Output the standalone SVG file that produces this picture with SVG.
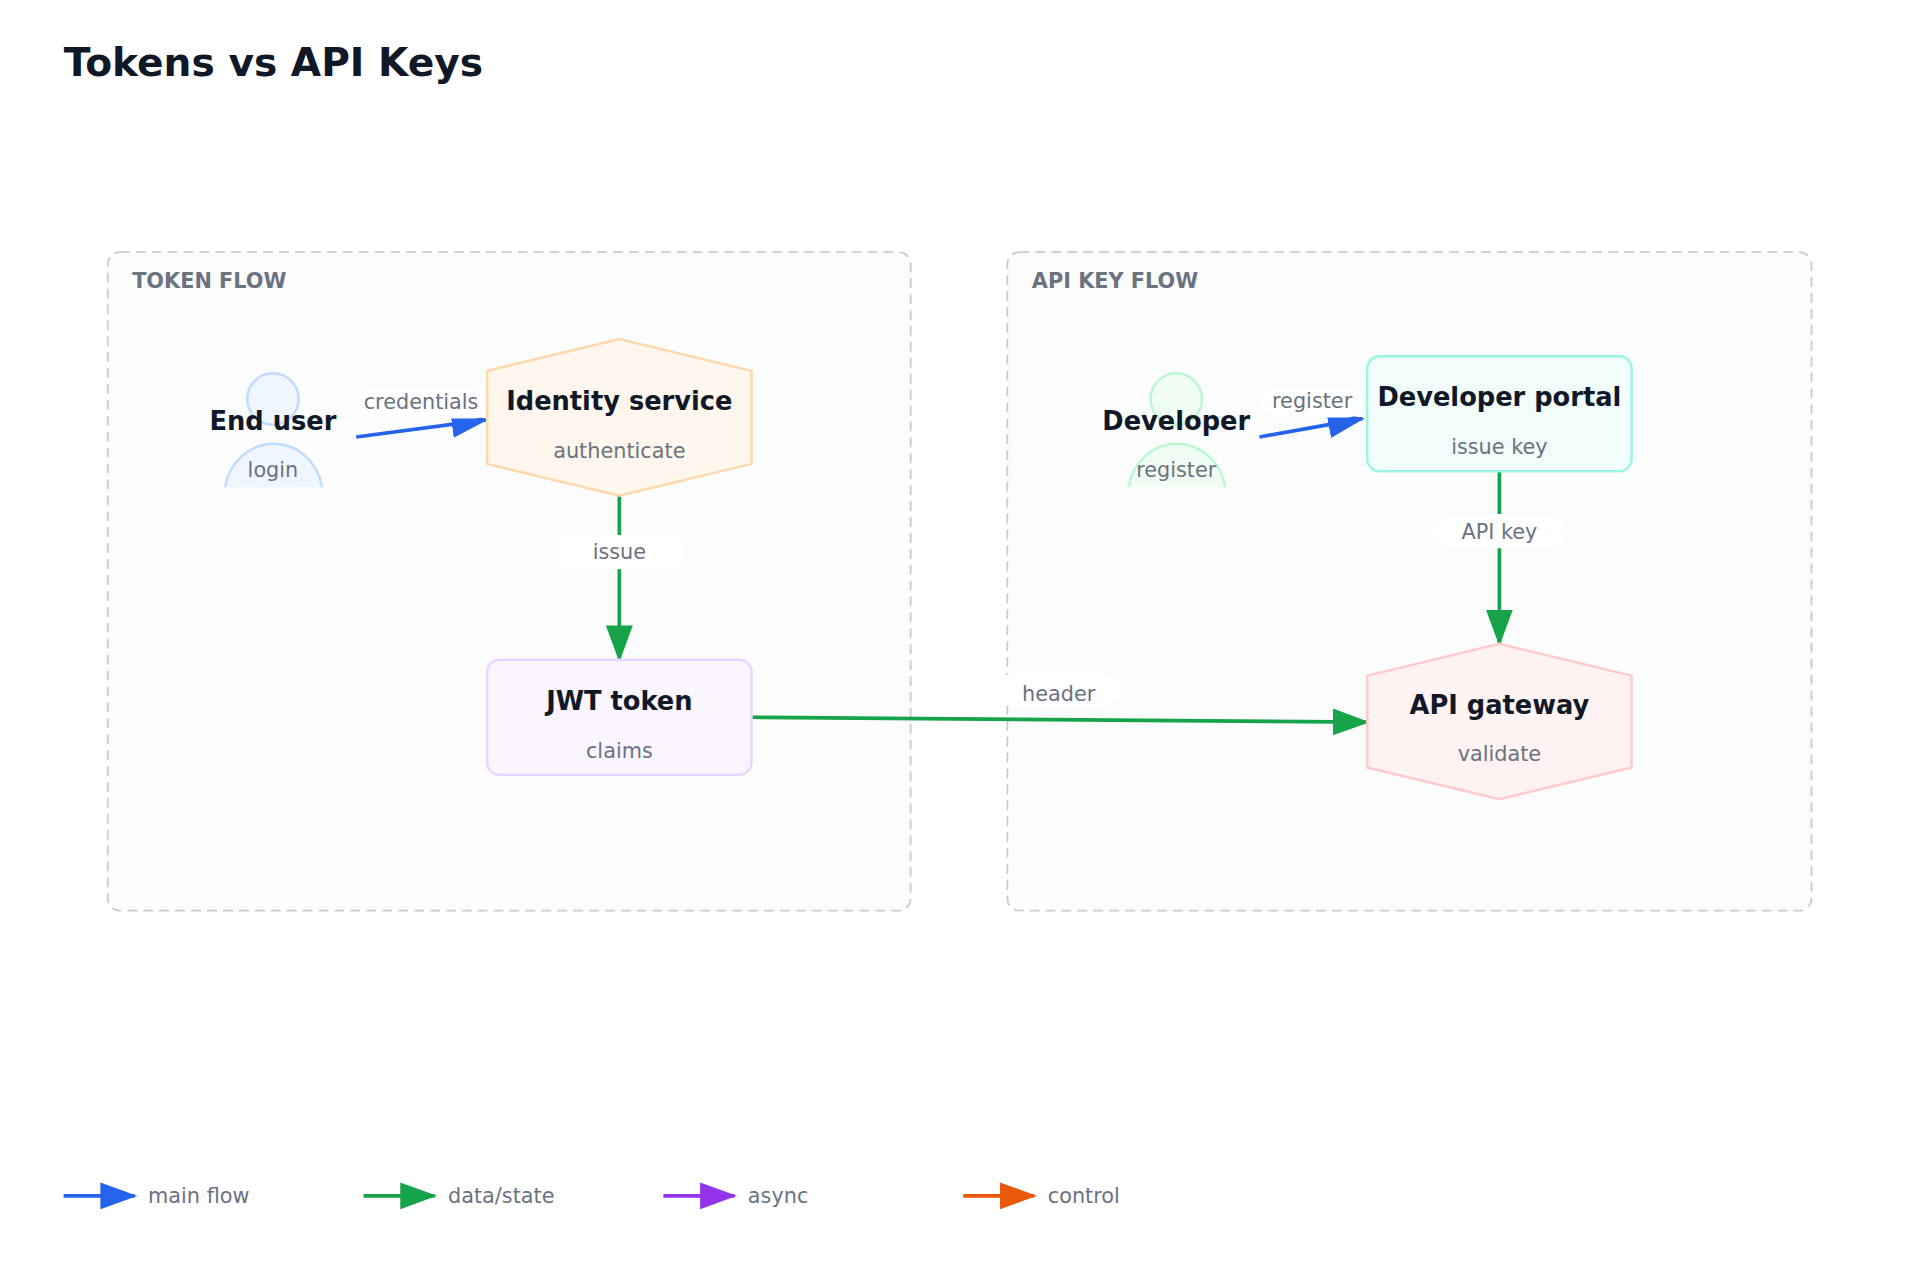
<svg xmlns="http://www.w3.org/2000/svg" width="1920" height="1280" viewBox="0 0 1920 1280">
<style>
text{font-family:"DejaVu Sans",sans-serif}
.title{font-size:32px;font-weight:bold;fill:#111827}
.grp{fill:#fbfcfc;stroke:#cbcbcb;stroke-width:1.5;stroke-dasharray:8 5}
.gl{font-size:17px;font-weight:bold;fill:#6b7280}
.nt{font-size:21px;font-weight:bold;fill:#111827;text-anchor:middle}
.ns{font-size:17px;fill:#6b7280;text-anchor:middle}
.el{font-size:17px;fill:#6b7280;text-anchor:middle}
.lb{fill:#fff}
.e{fill:none;stroke-width:3}
.lg{font-size:17px;fill:#6b7280}
</style>
<defs>
<marker id="ab" markerUnits="userSpaceOnUse" markerWidth="30" markerHeight="22" refX="28" refY="11" orient="auto"><path d="M0,0L30,11L0,22z" fill="#2563eb"/></marker>
<marker id="ag" markerUnits="userSpaceOnUse" markerWidth="30" markerHeight="22" refX="28" refY="11" orient="auto"><path d="M0,0L30,11L0,22z" fill="#16a34a"/></marker>
<marker id="ap" markerUnits="userSpaceOnUse" markerWidth="30" markerHeight="22" refX="28" refY="11" orient="auto"><path d="M0,0L30,11L0,22z" fill="#9333ea"/></marker>
<marker id="ao" markerUnits="userSpaceOnUse" markerWidth="30" markerHeight="22" refX="28" refY="11" orient="auto"><path d="M0,0L30,11L0,22z" fill="#ea580c"/></marker>
</defs>
<rect width="1920" height="1280" fill="#fff"/>
<g transform="scale(1.224)">
<text class="title" x="52" y="62">Tokens vs API Keys</text>
<g id="token-flow"><rect class="grp" x="88" y="206" width="656" height="538" rx="10"/><text class="gl" x="108" y="235">TOKEN FLOW</text></g>
<g id="api-key-flow"><rect class="grp" x="823" y="206" width="657" height="538" rx="10"/><text class="gl" x="843" y="235">API KEY FLOW</text></g>

<g id="connectors">
<line class="e" stroke="#2563eb" x1="291" y1="357" x2="397" y2="343" marker-end="url(#ab)"/>
<rect class="lb" x="288" y="316" width="112" height="26" rx="13"/><text class="el" x="344" y="334">credentials</text>
<line class="e" stroke="#16a34a" x1="506" y1="405" x2="506" y2="539" marker-end="url(#ag)"/>
<rect class="lb" x="452" y="437" width="108" height="28" rx="14"/><text class="el" x="506" y="457">issue</text>
<line class="e" stroke="#2563eb" x1="1029" y1="357" x2="1113" y2="342" marker-end="url(#ab)"/>
<rect class="lb" x="1030" y="315" width="84" height="26" rx="13"/><text class="el" x="1072" y="333">register</text>
<line class="e" stroke="#16a34a" x1="1225" y1="385" x2="1225" y2="526" marker-end="url(#ag)"/>
<rect class="lb" x="1170" y="420" width="110" height="28" rx="14"/><text class="el" x="1225" y="440">API key</text>
<line class="e" stroke="#16a34a" x1="614" y1="586" x2="1117" y2="590" marker-end="url(#ag)"/>
<rect class="lb" x="815" y="550" width="102" height="28" rx="14"/><text class="el" x="865" y="573">header</text>
</g>

<g id="end-user"><circle cx="223" cy="326" r="21" fill="#eff6ff" stroke="#bfdbfe" stroke-width="2"/><path d="M184,398 A40,42 0 0 1 263,398" fill="#eff6ff" stroke="#bfdbfe" stroke-width="2"/><text class="nt" x="223" y="351">End user</text><text class="ns" x="223" y="390">login</text></g>
<g id="identity-service"><polygon points="398,303 506,277 614,303 614,379 506,405 398,379" fill="#fff7ed" stroke="#fed7aa" stroke-width="2"/><text class="nt" x="506" y="335">Identity service</text><text class="ns" x="506" y="374">authenticate</text></g>
<g id="jwt-token"><rect x="398" y="539" width="216" height="94" rx="10" fill="#faf5ff" stroke="#e9d5ff" stroke-width="2"/><text class="nt" x="506" y="580">JWT token</text><text class="ns" x="506" y="619">claims</text></g>
<g id="developer"><circle cx="961" cy="326" r="21" fill="#f0fdf4" stroke="#bbf7d0" stroke-width="2"/><path d="M922,398 A40,42 0 0 1 1001,398" fill="#f0fdf4" stroke="#bbf7d0" stroke-width="2"/><text class="nt" x="961" y="351">Developer</text><text class="ns" x="961" y="390">register</text></g>
<g id="developer-portal"><rect x="1117" y="291" width="216" height="94" rx="10" fill="#f0fdfa" stroke="#99f6e4" stroke-width="2"/><text class="nt" x="1225" y="332">Developer portal</text><text class="ns" x="1225" y="371">issue key</text></g>
<g id="api-gateway"><polygon points="1117,552 1225,526 1333,552 1333,627 1225,653 1117,627" fill="#fef2f2" stroke="#fecaca" stroke-width="2"/><text class="nt" x="1225" y="583">API gateway</text><text class="ns" x="1225" y="622">validate</text></g>

<g id="legend">
<line class="e" stroke="#2563eb" x1="52" y1="977" x2="110" y2="977" marker-end="url(#ab)"/><text class="lg" x="121" y="983">main flow</text>
<line class="e" stroke="#16a34a" x1="297" y1="977" x2="355" y2="977" marker-end="url(#ag)"/><text class="lg" x="366" y="983">data/state</text>
<line class="e" stroke="#9333ea" x1="542" y1="977" x2="600" y2="977" marker-end="url(#ap)"/><text class="lg" x="611" y="983">async</text>
<line class="e" stroke="#ea580c" x1="787" y1="977" x2="845" y2="977" marker-end="url(#ao)"/><text class="lg" x="856" y="983">control</text>
</g>
</g>
</svg>
